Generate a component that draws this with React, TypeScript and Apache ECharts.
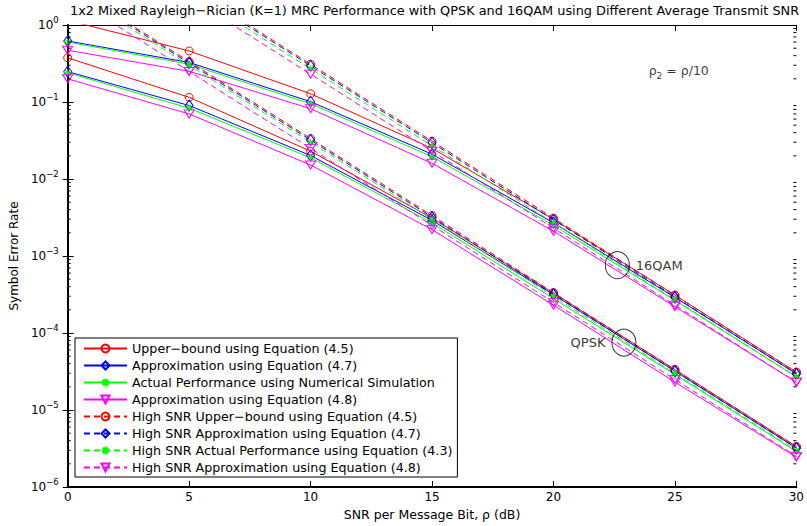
import React, { useEffect, useRef } from "react";
import * as echarts from "echarts";

const FONT = "'DejaVu Sans', 'Liberation Sans', sans-serif";

// x values (dB)
const snrDb = [0, 5, 10, 15, 20, 25, 30];

// legend names
const legendNames = [
  "Upper−bound using Equation (4.5)",
  "Approximation using Equation (4.7)",
  "Actual Performance using Numerical Simulation",
  "Approximation using Equation (4.8)",
  "High SNR Upper−bound using Equation (4.5)",
  "High SNR Approximation using Equation (4.7)",
  "High SNR Actual Performance using Equation (4.3)",
  "High SNR Approximation using Equation (4.8)",
];

// QPSK curves
const qpskUpperBound = [0.375, 0.115, 0.023, 0.0031, 3.3e-4, 3.35e-5, 3.35e-6];
const qpskApprox47 = [0.248, 0.09, 0.0202, 0.0029, 3.15e-4, 3.2e-5, 3.2e-6];
const qpskSimulation = [0.24, 0.083, 0.0189, 0.0027, 2.8e-4, 2.9e-5, 2.9e-6];
const qpskApprox48 = [0.2, 0.07, 0.0152, 0.0022, 2.3e-4, 2.3e-5, 2.45e-6];
const qpskHighUpper = [3.35, 0.335, 0.0335, 0.00335, 3.35e-4, 3.35e-5, 3.35e-6];
const qpskHighApprox47 = [3.2, 0.32, 0.032, 0.0032, 3.2e-4, 3.2e-5, 3.2e-6];
const qpskHighActual = [3.0, 0.3, 0.03, 0.003, 3.0e-4, 3.0e-5, 3.0e-6];
const qpskHighApprox48 = [2.5, 0.25, 0.025, 0.0025, 2.5e-4, 2.5e-5, 2.5e-6];

// 16QAM curves
const qam16UpperBound = [1.15, 0.46, 0.128, 0.025, 0.003, 3.1e-4, 3.1e-5];
const qam16Approx47 = [0.62, 0.326, 0.101, 0.021, 0.0027, 2.9e-4, 2.95e-5];
const qam16Simulation = [0.6, 0.31, 0.095, 0.0195, 0.0025, 2.65e-4, 2.7e-5];
const qam16Approx48 = [0.47, 0.25, 0.082, 0.016, 0.0021, 2.2e-4, 2.3e-5];
const qam16HighUpper = [31, 3.1, 0.31, 0.031, 0.0031, 3.1e-4, 3.1e-5];
const qam16HighApprox47 = [29.5, 2.95, 0.295, 0.0295, 0.00295, 2.95e-4, 2.95e-5];
const qam16HighActual = [27, 2.7, 0.27, 0.027, 0.0027, 2.7e-4, 2.7e-5];
const qam16HighApprox48 = [23, 2.3, 0.23, 0.023, 0.0023, 2.3e-4, 2.3e-5];

// annotations
const annotationLabels = ["16QAM", "QPSK"];
const annotationX = [22.63, 22.9];
const annotationY = [7.6e-4, 7.5e-5];
const rhoNoteX = 23.92;
const rhoNoteY = 0.255;

// axis ticks
const yDecades = [1e-6, 1e-5, 1e-4, 1e-3, 1e-2, 1e-1];
const minorMultipliers = [2, 3, 4, 5, 6, 7, 8, 9];

const seriesStyles = [
  { color: "#ff0000", symbol: "circle", size: 8, rotate: 0 },
  { color: "#0000ff", symbol: "diamond", size: [8, 11], rotate: 0 },
  { color: "#00ff00", symbol: "path://M0,-1L0,1M-1,0L1,0M-0.7,-0.7L0.7,0.7M-0.7,0.7L0.7,-0.7", size: 7, rotate: 0 },
  { color: "#ff00ff", symbol: "triangle", size: [10, 8], rotate: 180 },
];

export default function App() {
  const ref = useRef<HTMLDivElement>(null);
  useEffect(() => {
    const chart = echarts.init(ref.current!, null, { renderer: "svg" });

    const qpskSets = [
      qpskUpperBound, qpskApprox47, qpskSimulation, qpskApprox48,
      qpskHighUpper, qpskHighApprox47, qpskHighActual, qpskHighApprox48,
    ];
    const qamSets = [
      qam16UpperBound, qam16Approx47, qam16Simulation, qam16Approx48,
      qam16HighUpper, qam16HighApprox47, qam16HighActual, qam16HighApprox48,
    ];

    const makeSeries = (values: number[], idx: number) => {
      const st = seriesStyles[idx % 4];
      const dashed = idx >= 4;
      return {
        type: "line",
        name: legendNames[idx],
        data: snrDb.map((x, i) => [x, values[i]]),
        symbol: st.symbol,
        symbolSize: st.size,
        symbolRotate: st.rotate,
        showAllSymbol: true,
        clip: true,
        lineStyle: { color: st.color, width: 1, type: dashed ? [6, 4] : "solid" },
        itemStyle: { color: "rgba(0,0,0,0)", borderColor: st.color, borderWidth: 1 },
        emphasis: { disabled: true },
        z: 3,
      };
    };

    const series: any[] = [];
    qamSets.forEach((v, i) => series.push(makeSeries(v, i)));
    qpskSets.forEach((v, i) => series.push(makeSeries(v, i)));

    // minor ticks on log axis (left & right)
    const minorValues: number[][] = [];
    yDecades.forEach((d) => minorMultipliers.forEach((m) => minorValues.push([0, d * m])));
    series.push({
      type: "custom",
      name: "minorTicks",
      silent: true,
      clip: false,
      z: 5,
      data: minorValues,
      renderItem: (params: any, api: any) => {
        const v = api.value(1);
        const l = api.coord([0, v]);
        const r = api.coord([30, v]);
        return {
          type: "group",
          children: [
            { type: "line", shape: { x1: l[0], y1: l[1], x2: l[0] + 3, y2: l[1] }, style: { stroke: "#000", lineWidth: 1 } },
            { type: "line", shape: { x1: r[0] - 3, y1: r[1], x2: r[0], y2: r[1] }, style: { stroke: "#000", lineWidth: 1 } },
          ],
        };
      },
    });

    // annotation circles
    series.push({
      type: "scatter",
      name: "annotations",
      silent: true,
      z: 6,
      symbol: "circle",
      symbolSize: [24, 27],
      itemStyle: { color: "rgba(0,0,0,0)", borderColor: "#000", borderWidth: 1 },
      data: annotationLabels.map((t, i) => ({
        value: [annotationX[i], annotationY[i]],
        label: {
          show: true,
          formatter: t,
          position: i === 0 ? "right" : "left",
          distance: 6,
          color: "#000",
          fontFamily: FONT,
          fontSize: 13,
        },
      })),
    });
    series.push({
      type: "scatter",
      name: "rhoNote",
      silent: true,
      symbolSize: 0,
      data: [[rhoNoteX, rhoNoteY]],
      label: {
        show: true,
        position: "right",
        distance: 0,
        formatter: "{a|ρ}{sub|2}{a| = ρ/10}",
        rich: {
          a: { fontFamily: FONT, fontSize: 12.5, lineHeight: 20, verticalAlign: "middle", color: "#000" },
          sub: { fontFamily: FONT, fontSize: 9, lineHeight: 9, verticalAlign: "bottom", color: "#000" },
        },
      },
    });

    const yLabelFormatter = (v: number) => {
      const e = Math.round(Math.log10(v));
      const s = e < 0 ? "−" + -e : String(e);
      return `{b|10}{s|${s}}`;
    };

    const option: any = {
      animation: false,
      backgroundColor: "#fff",
      title: {
        text: "1x2 Mixed Rayleigh−Rician (K=1) MRC Performance with QPSK and 16QAM using Different Average Transmit SNR",
        left: 70,
        top: 4,
        padding: 0,
        textStyle: { fontFamily: FONT, fontSize: 12.85, fontWeight: "normal", color: "#000" },
      },
      grid: { left: 63.5, right: 6.5, top: 25, bottom: 38, containLabel: false },
      legend: {
        data: legendNames,
        orient: "vertical",
        left: 75,
        top: 338,
        padding: [4, 5, 3, 8],
        itemGap: 4,
        itemWidth: 43,
        itemHeight: 10,
        borderColor: "#000",
        borderWidth: 1,
        backgroundColor: "#fff",
        selectedMode: false,
        textStyle: { fontFamily: FONT, fontSize: 12.7, color: "#000" },
      },
      xAxis: [
        {
          type: "value",
          min: 0,
          max: 30,
          interval: 5,
          position: "bottom",
          name: "SNR per Message Bit, ρ (dB)",
          nameLocation: "middle",
          nameGap: 21,
          nameTextStyle: { fontFamily: FONT, fontSize: 12.5, color: "#000" },
          axisLine: { lineStyle: { color: "#000", width: 2 } },
          axisTick: { inside: true, length: 6, lineStyle: { color: "#000" } },
          axisLabel: { margin: 4, fontFamily: FONT, fontSize: 12, color: "#000" },
          splitLine: { show: false },
        },
        {
          type: "value",
          min: 0,
          max: 30,
          interval: 5,
          position: "top",
          axisLine: { lineStyle: { color: "#000", width: 1 } },
          axisTick: { inside: true, length: 6, lineStyle: { color: "#000" } },
          axisLabel: { show: false },
          splitLine: { show: false },
        },
      ],
      yAxis: [
        {
          type: "log",
          logBase: 10,
          min: 1e-6,
          max: 1,
          position: "left",
          name: "Symbol Error Rate",
          nameLocation: "middle",
          nameGap: 47,
          nameTextStyle: { fontFamily: FONT, fontSize: 12, color: "#000" },
          axisLine: { show: true, lineStyle: { color: "#000", width: 2 } },
          axisTick: { inside: true, length: 6, lineStyle: { color: "#000" } },
          axisLabel: {
            margin: 9,
            formatter: yLabelFormatter,
            rich: {
              b: { fontFamily: FONT, fontSize: 12, lineHeight: 20, verticalAlign: "middle", color: "#000" },
              s: { fontFamily: FONT, fontSize: 8.5, lineHeight: 10, verticalAlign: "top", color: "#000" },
            },
          },
          splitLine: { show: false },
        },
        {
          type: "log",
          logBase: 10,
          min: 1e-6,
          max: 1,
          position: "right",
          axisLine: { show: true, lineStyle: { color: "#000", width: 1 } },
          axisTick: { inside: true, length: 5, lineStyle: { color: "#000" } },
          axisLabel: { show: false },
          splitLine: { show: false },
        },
      ],
      series,
    };

    chart.setOption(option);
    return () => chart.dispose();
  }, []);
  return (
    <div
      ref={ref}
      style={{ position: "fixed", left: 0, top: 0, width: 807, height: 526, background: "#fff" }}
    />
  );
}
